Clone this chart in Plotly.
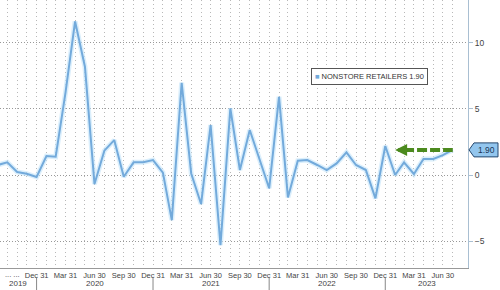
import plotly.graph_objects as go
import pandas as pd

# ---- data ----
start_month = "2019-08-31"
values = [0.76, 0.96, 0.23, 0.10, -0.15,
          1.43, 1.38, 6.25, 11.6, 8.18, -0.68, 1.84, 2.64, -0.13, 0.96, 0.96, 1.13,
          0.18, -3.4, 6.97, 0.12, -2.19, 3.78, -5.29, 5.03, 0.38, 3.40, 1.3, -1.0,
          5.91, -1.69, 1.08, 1.13, 0.76, 0.38, 0.88, 1.71, 0.76, 0.38, -1.76, 2.19,
          0.0, 0.96, 0.08, 1.21, 1.21, 1.51, 1.90]
series_name = "NONSTORE RETAILERS"
y_ticks = [-5, 0, 5, 10]
years = [2019, 2020, 2021, 2022, 2023]
x_range = ["2019-09-07", "2023-09-17"]
y_range = [-7.02, 13.22]

dates = pd.date_range(start_month, periods=len(values), freq=pd.offsets.MonthEnd())
quarter_ends = [d for d in dates if d.month in (3, 6, 9, 12) and d >= pd.Timestamp("2019-12-31")]
quarter_text = [d.strftime("%b %d") for d in quarter_ends]
last_val = values[-1]

FONT = "Liberation Sans, Arial, sans-serif"
LINE = "#73aadb"
GREEN = "#4c8a1e"
TXT = "#444"
TS = 7.5

fig = go.Figure()
fig.add_trace(go.Scatter(x=dates, y=values, mode="lines",
                         line=dict(color="rgba(195,228,250,0.6)", width=5),
                         hoverinfo="skip", showlegend=False))
fig.add_trace(go.Scatter(x=dates, y=values, mode="lines",
                         line=dict(color=LINE, width=2), showlegend=False))

# year labels and dividers
rs, re_ = pd.Timestamp(x_range[0]), pd.Timestamp(x_range[1])
annotations = []
shapes = []
for yr in years:
    a = max(pd.Timestamp(f"{yr}-01-01"), rs)
    b = min(pd.Timestamp(f"{yr}-12-31"), re_)
    mid = a + (b - a) / 2
    annotations.append(dict(x=mid, y=-0.058, xref="x", yref="paper", text=str(yr),
                            showarrow=False, font=dict(size=8, color=TXT, family=FONT),
                            xanchor="center", yanchor="middle"))
    if yr < years[-1]:
        shapes.append(dict(type="line", xref="x", yref="paper",
                           x0=pd.Timestamp(f"{yr}-12-31"), x1=pd.Timestamp(f"{yr}-12-31"),
                           y0=-0.037, y1=-0.085, line=dict(color="#888", width=1)))

# truncated leading labels
annotations.append(dict(x=12 / 468, y=-0.026, xref="paper", yref="paper", text="... ...",
                        showarrow=False, font=dict(size=TS, color=TXT, family=FONT),
                        xanchor="center", yanchor="middle"))

# legend box
annotations.append(dict(x=0.789, y=0.713, xref="paper", yref="paper",
                        xanchor="center", yanchor="middle",
                        text=f"<span style='color:{LINE}'>■</span> {series_name} {last_val:.2f}",
                        showarrow=False, font=dict(size=7.5, color="#333", family=FONT),
                        bgcolor="white", bordercolor="#555", borderwidth=1, borderpad=3))

# last value tag on right axis
shapes.append(dict(type="path", xref="paper", yref="y", xsizemode="pixel", ysizemode="pixel",
                   xanchor=1, yanchor=last_val,
                   path="M 1,0 L 6,7 L 30,7 L 30,-7 L 6,-7 Z",
                   fillcolor="#93c6ee", line=dict(color="#24476e", width=1)))
annotations.append(dict(x=1, y=last_val, xref="paper", yref="y", xanchor="center",
                        xshift=18, text=f"{last_val:.2f}", showarrow=False,
                        font=dict(size=8.5, color="#1b3658", family=FONT)))

# green dashed arrow
shapes.append(dict(type="line", xref="x", yref="y", x0=dates[-6], x1=dates[-1],
                   y0=last_val, y1=last_val, line=dict(color=GREEN, width=4, dash="10px,3px")))
annotations.append(dict(x=dates[-7], y=last_val, xref="x", yref="y", text="",
                        showarrow=True, ax=12, ay=0, arrowhead=2, arrowsize=0.6,
                        arrowwidth=4, arrowcolor=GREEN, standoff=0))

fig.update_layout(
    width=500, height=290,
    margin=dict(l=0, r=32, t=0, b=22, autoexpand=False),
    paper_bgcolor="white", plot_bgcolor="white",
    font=dict(family=FONT, size=TS, color=TXT),
    showlegend=False,
    annotations=annotations, shapes=shapes,
    xaxis=dict(type="date", range=x_range, tickvals=quarter_ends, ticktext=quarter_text,
               tickangle=0, automargin=False,
               showgrid=True, gridcolor="#b8b8b8", griddash="1px,3px", gridwidth=1,
               minor=dict(tickvals=list(dates), showgrid=True, gridcolor="#b8b8b8",
                          griddash="1px,3px", gridwidth=1),
               showline=True, linecolor="#999", linewidth=1, ticks="",
               tickfont=dict(size=TS, color=TXT, family=FONT), zeroline=False),
    yaxis=dict(side="right", range=y_range, tickvals=y_ticks, automargin=False,
               showgrid=True, gridcolor="#999", griddash="1px,2px", gridwidth=1,
               showline=True, linecolor="#a9bfd2", linewidth=1, ticks="outside",
               ticklen=4, tickcolor="#a9bfd2", zeroline=False,
               tickfont=dict(size=8.5, color=TXT, family=FONT)),
)

fig.write_html("out.html")
